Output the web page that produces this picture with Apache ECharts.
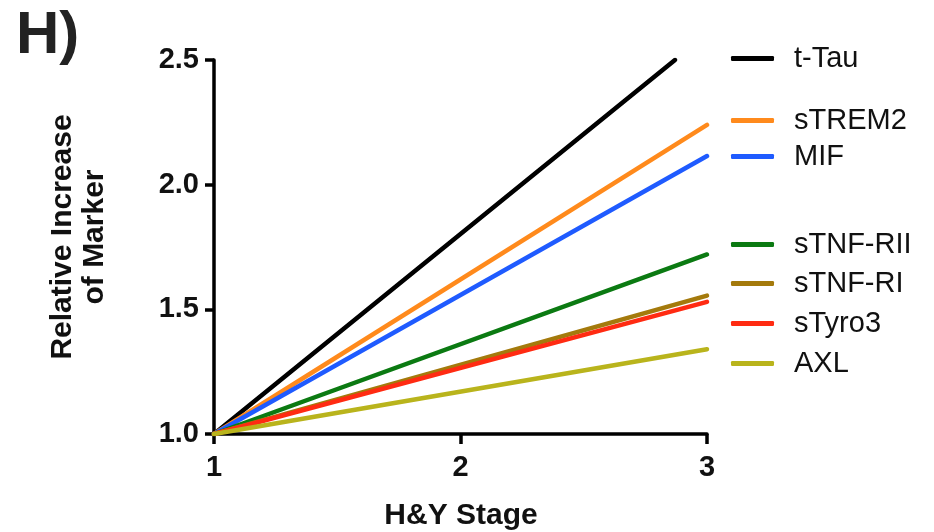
<!DOCTYPE html>
<html><head><meta charset="utf-8">
<script src="https://cdn.jsdelivr.net/npm/echarts@6/dist/echarts.min.js"></script>
<style>html,body{margin:0;padding:0;background:#fff}#c{width:934px;height:532px}</style>
</head><body><div id="c"></div>
<script>
const names = ['t-Tau','sTREM2','MIF','sTNF-RII','sTNF-RI','sTyro3','AXL'];
const colors = ['#000000','#ff8a1c','#1f5bff','#0b7a12','#a47a0c','#ff2b12','#b9b41c'];
const startX = [1,1,1,1,1,1,1];
const startY = [1,1,1,1,1,1,1];
const endX = [2.87,3,3,3,3,3,3];
const endY = [2.5,2.24,2.115,1.72,1.555,1.53,1.34];
const legendCenters = [58,120,156,244,283,323,363];
const xTicks = [1,2,3];
const yTicks = [1.0,1.5,2.0,2.5];
const FONT = 'Liberation Sans, Arial, sans-serif';

const chart = echarts.init(document.getElementById('c'));
const series = names.map((n,i)=>({
  name:n, type:'line', data:[[startX[i],startY[i]],[endX[i],endY[i]]],
  symbol:'none', lineStyle:{color:colors[i],width:4.5,cap:'round'}, itemStyle:{color:colors[i]},
  z: 2+i, animation:false
}));
const legends = names.map((n,i)=>({
  data:[n], left:731, top:legendCenters[i]-14, padding:0, orient:'vertical',
  icon:'roundRect', itemWidth:43, itemHeight:5,
  textStyle:{fontFamily:FONT,fontSize:29,color:'#111',padding:[0,0,0,15]},
  selectedMode:false
}));
chart.setOption({
  animation:false,
  grid:{left:214,right:227,top:60,bottom:98,containLabel:false},
  legend:legends,
  xAxis:{type:'value',min:xTicks[0],max:xTicks[xTicks.length-1],interval:1,
    axisLine:{show:true,onZero:false,lineStyle:{color:'#000',width:3.5}},
    axisTick:{show:true,length:10,lineStyle:{color:'#000',width:3.5}},
    axisLabel:{fontFamily:FONT,fontSize:29,fontWeight:'bold',color:'#111',margin:19},
    splitLine:{show:false}},
  yAxis:{type:'value',min:yTicks[0],max:yTicks[yTicks.length-1],interval:0.5,
    axisLine:{show:true,onZero:false,lineStyle:{color:'#000',width:3.5}},
    axisTick:{show:true,length:9,lineStyle:{color:'#000',width:3.5}},
    axisLabel:{fontFamily:FONT,fontSize:29,fontWeight:'bold',color:'#111',margin:15,
      formatter:v=>v.toFixed(1)},
    splitLine:{show:false}},
  graphic:[
    {type:'text',left:16,top:6,style:{text:'H)',fontFamily:FONT,fontSize:60,fontWeight:'bold',fill:'#222'}},
    {type:'text',x:461,y:516,style:{text:'H&Y Stage',fontFamily:FONT,fontSize:30,fontWeight:'bold',fill:'#111',align:'center',verticalAlign:'middle'}},
    {type:'text',x:79,y:237,rotation:Math.PI/2,style:{text:'Relative Increase\nof Marker',fontFamily:FONT,fontSize:30,fontWeight:'bold',fill:'#111',align:'center',verticalAlign:'middle',lineHeight:32}}
  ],
  series:series
});
</script></body></html>
